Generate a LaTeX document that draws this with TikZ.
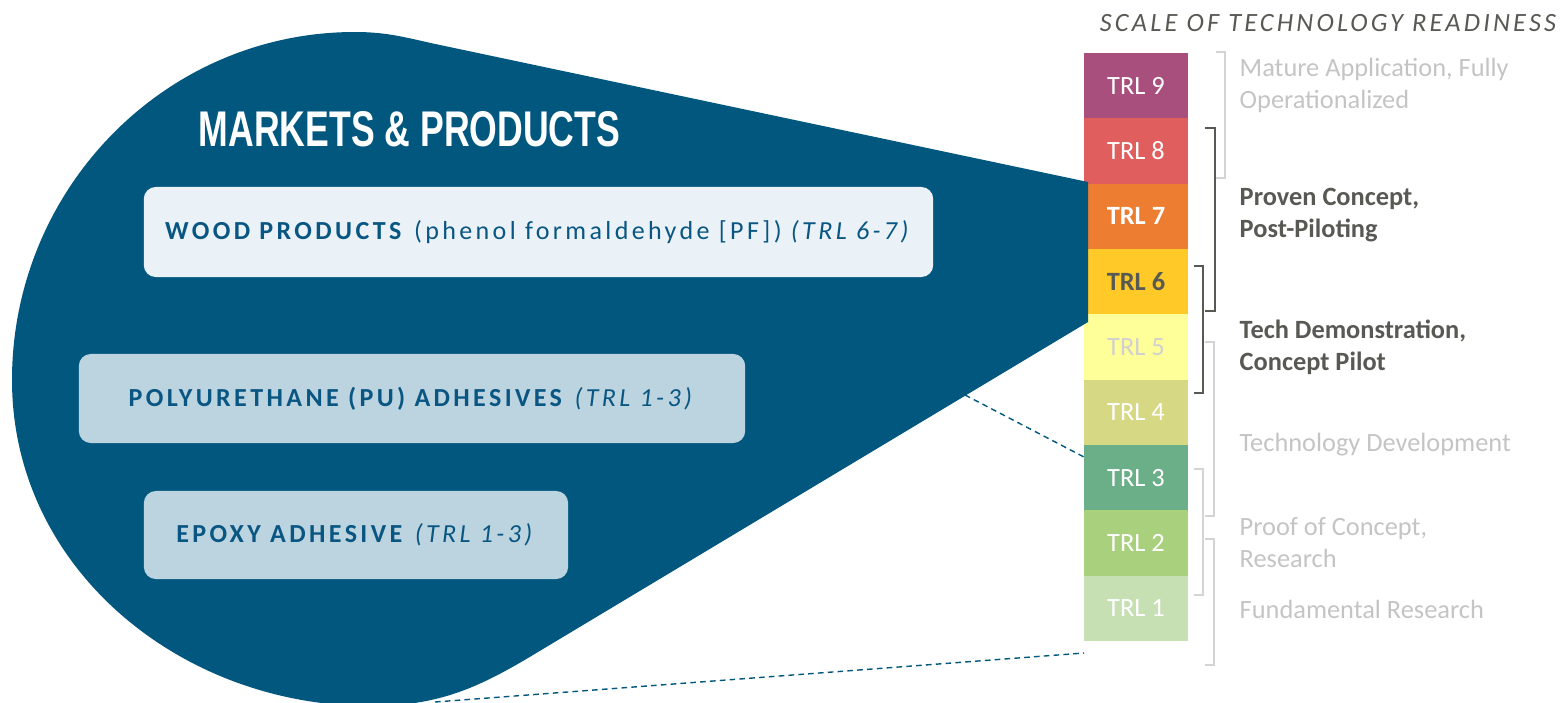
\documentclass[tikz,border=0pt]{standalone}
\usepackage{fontspec}
\usepackage{graphicx}
\usepackage{tikz}
\setmainfont{Carlito}
\newfontfamily\boxfont[LetterSpace=13]{Carlito}
\newfontfamily\scalefont[LetterSpace=12]{Carlito}
\newfontfamily\headfont{Liberation Sans}

\definecolor{blobblue}{HTML}{02577F}
\definecolor{textblue}{HTML}{0A5682}
\definecolor{woodfill}{HTML}{EAF2F8}
\definecolor{adhfill}{HTML}{BCD4E0}
\definecolor{lightgrey}{HTML}{C4C4C4}
\definecolor{bracegrey}{HTML}{D4D4D4}
\definecolor{darkgrey}{HTML}{585953}
\definecolor{trl9}{HTML}{A94F7E}
\definecolor{trl8}{HTML}{E05E5E}
\definecolor{trl7}{HTML}{ED7D31}
\definecolor{trl6}{HTML}{FFC928}
\definecolor{trl5}{HTML}{FFFF99}
\definecolor{trl4}{HTML}{D6D884}
\definecolor{trl3}{HTML}{6AAF88}
\definecolor{trl2}{HTML}{A9D17D}
\definecolor{trl1}{HTML}{C6E0B4}
\definecolor{trlfaint}{HTML}{D0D0D0}

\tikzset{
  trlbox/.style={minimum width=1.04cm, minimum height=0.6533cm, inner sep=0pt,
    font=\fontsize{7.5}{9}\selectfont},
  prodbox/.style={rounded corners=0.12cm, inner sep=0pt, text=textblue,
    font=\boxfont\fontsize{7.4}{9}\selectfont},
  lightbrace/.style={draw=bracegrey, line width=0.5pt},
  darkbrace/.style={draw=darkgrey, line width=0.6pt},
  lightlabel/.style={anchor=west, align=left, inner sep=0pt, text=lightgrey,
    font=\fontsize{7.5}{9.1}\selectfont},
  darklabel/.style={lightlabel, text=darkgrey, font=\fontsize{7.5}{9.1}\selectfont\bfseries},
  zoomline/.style={draw=blobblue, line width=0.4pt, dash pattern=on 1.6pt off 1.2pt},
}

\begin{document}
\begin{tikzpicture}[x=0.01cm, y=0.01cm]
    \useasboundingbox (0,0) rectangle (1561,702);
    % Readiness column:
    \foreach \n/\c/\t/\w in {9/trl9/white/\mdseries, 8/trl8/white/\mdseries, 7/trl7/white/\bfseries,
        6/trl6/darkgrey/\bfseries, 5/trl5/trlfaint/\mdseries, 4/trl4/white/\mdseries,
        3/trl3/white/\mdseries, 2/trl2/white/\mdseries, 1/trl1/white/\mdseries}
        \node[trlbox, fill=\c, text=\t] (trl\n) at (1136, {616.33-(9-\n)*65.33}) {\w TRL \n};
    \node[text=darkgrey, font=\scalefont\itshape\fontsize{7.5}{9}\selectfont] (scale) at (1328, 679) {SCALE OF TECHNOLOGY READINESS};

    % Blob and products:
    \fill[blobblue] (1088,520) -- (440,657) to[out=168, in=0] (355,670) to[out=180, in=90] (12,322)
        to[out=270, in=180] (370,-4) to[out=0, in=211] (533,47) -- (1088,380) -- cycle;
    \node[text=white] (markets) at (409.5, 572.5) {\resizebox{4.21cm}{0.35cm}{\headfont\bfseries MARKETS \& PRODUCTS}};
    \node[prodbox, fill=woodfill, minimum width=7.89cm, minimum height=0.9cm] (wood) at (538.5, 470)
        {\textbf{WOOD PRODUCTS} (phenol formaldehyde [PF]) \textit{(TRL 6-7)}};
    \node[prodbox, fill=adhfill, minimum width=6.66cm, minimum height=0.89cm] (pu) at (412, 303.5)
        {\textbf{POLYURETHANE (PU) ADHESIVES} \textit{(TRL 1-3)}};
    \node[prodbox, fill=adhfill, minimum width=4.24cm, minimum height=0.88cm] (epoxy) at (356, 167)
        {\textbf{EPOXY ADHESIVE} \textit{(TRL 1-3)}};

    % Zoom lines:
    \coordinate (puedge) at (965, 307);
    \coordinate (trltop) at (1084, 245);
    \coordinate (blobfoot) at (435, 0);
    \coordinate (trlfoot) at (1084, 49);
    \draw[zoomline] (puedge) -- (trltop);
    \draw[zoomline] (blobfoot) -- (trlfoot);

    % Brackets and stage labels:
    \draw[lightbrace] (1216,650) -- (1225,650) -- (1225,524) -- (1216,524);
    \draw[darkbrace] (1205,574) -- (1215,574) -- (1215,391) -- (1205,391);
    \draw[darkbrace] (1194,436) -- (1203,436) -- (1203,309) -- (1194,309);
    \draw[lightbrace] (1205,360) -- (1214,360) -- (1214,186) -- (1205,186);
    \draw[lightbrace] (1194,233) -- (1203,233) -- (1203,107) -- (1194,107);
    \draw[lightbrace] (1205,163) -- (1214,163) -- (1214,37) -- (1205,37);
    \node[lightlabel] (mature) at (1239, 617) {Mature Application, Fully\\Operationalized};
    \node[darklabel] (proven) at (1239, 487) {Proven Concept,\\Post-Piloting};
    \node[darklabel] (demo) at (1239, 354.5) {Tech Demonstration,\\Concept Pilot};
    \node[lightlabel] (develop) at (1239, 257) {Technology Development};
    \node[lightlabel] (proof) at (1239, 159.5) {Proof of Concept,\\Research};
    \node[lightlabel] (fundamental) at (1239, 93) {Fundamental Research};
\end{tikzpicture}
\end{document}
